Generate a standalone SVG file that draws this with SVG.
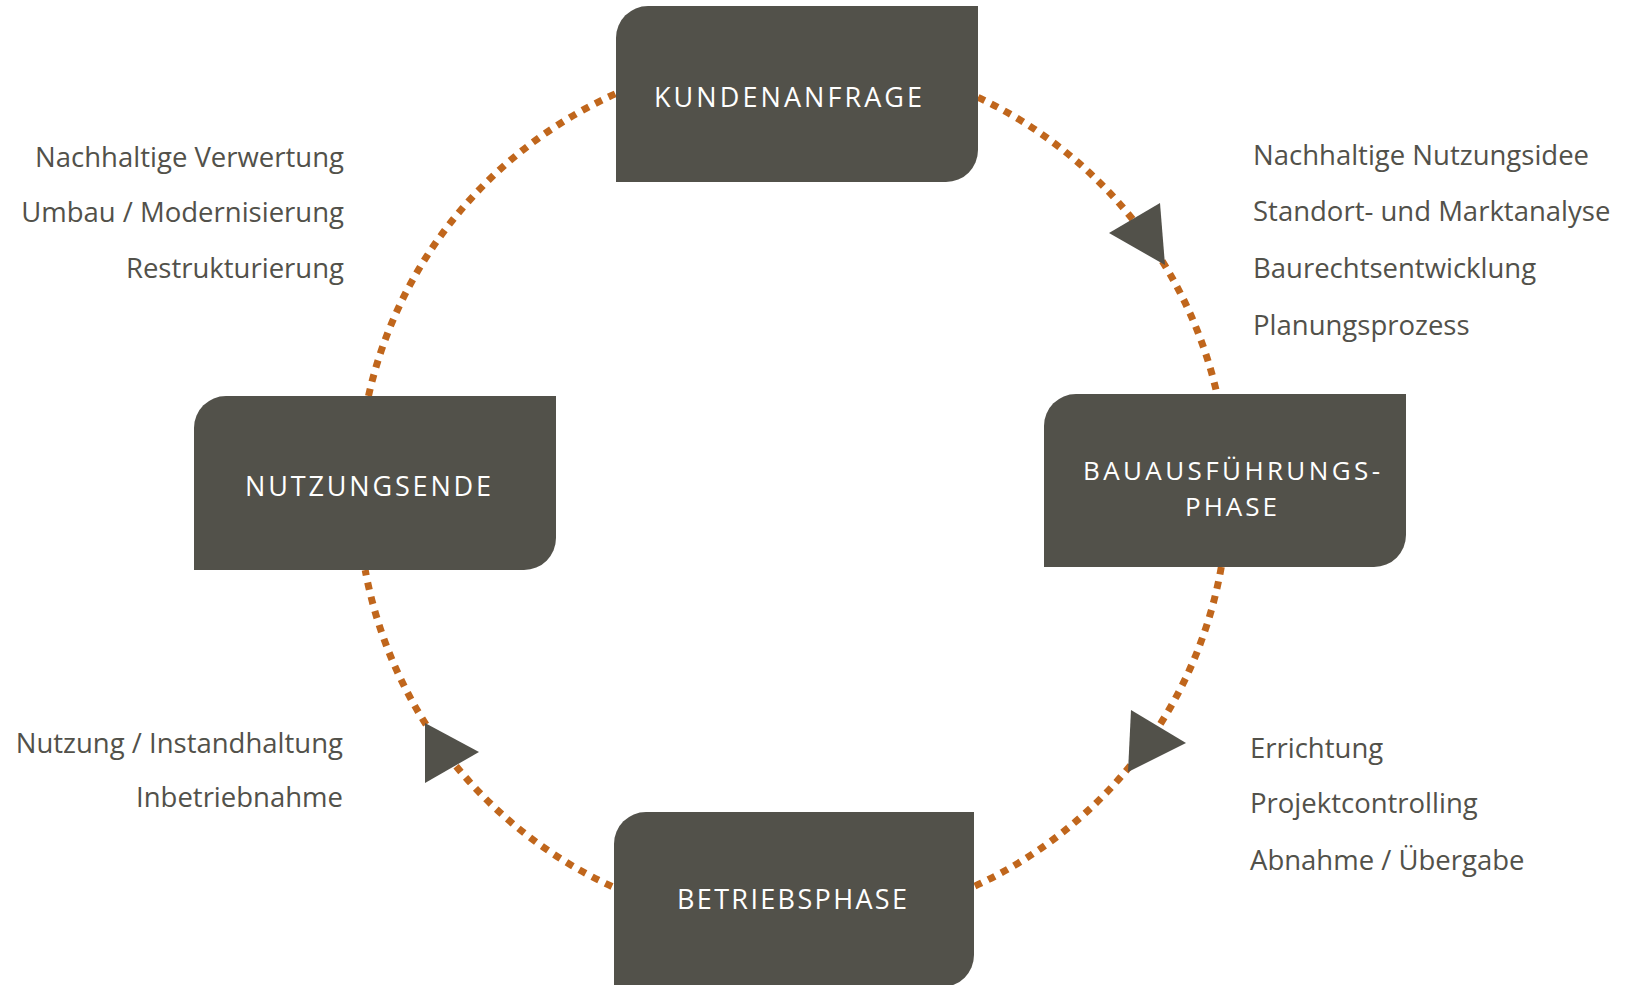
<svg xmlns="http://www.w3.org/2000/svg" width="1626" height="985" viewBox="0 0 1626 985">
<defs>
<style>
.box{fill:#52514A}
.bt{fill:#FFFFFF;font-family:"Open Sans","DejaVu Sans",sans-serif;font-size:27px}
.bt2{fill:#FFFFFF;font-family:"Open Sans","DejaVu Sans",sans-serif;font-size:26px}
.lbl{fill:#52514A;font-family:"Open Sans","DejaVu Sans",sans-serif;font-size:27.5px}
.arc{fill:none;stroke:#C0661C;stroke-width:7;stroke-dasharray:7.5 7.2}
.head{fill:#52514A}
</style>
</defs>
<rect width="1626" height="985" fill="#FFFFFF"/>
<g id="connectors">
<path class="arc" d="M368.5,396 A435,435 0 0 1 616,93.6"/>
<path class="arc" d="M978,97.3 A435,435 0 0 1 1217,394"/>
<path class="arc" d="M1221.3,567 A435,435 0 0 1 974,886.5"/>
<path class="arc" d="M612,886.5 A435,435 0 0 1 365.2,570"/>
<polygon class="head" points="1109,233 1160,203 1165,265"/>
<polygon class="head" points="1131,710 1186,743 1128,772"/>
<polygon class="head" points="425,723 479,752 425,783"/>
</g>
<g id="node-kundenanfrage">
<path class="box" d="M648,6 H978 V150 A32,32 0 0 1 946,182 H616 V38 A32,32 0 0 1 648,6 Z"/>
<text class="bt" x="654" y="107" textLength="268" lengthAdjust="spacing">KUNDENANFRAGE</text>
</g>
<g id="node-bauausfuehrung">
<path class="box" d="M1076,394 H1406 V535 A32,32 0 0 1 1374,567 H1044 V426 A32,32 0 0 1 1076,394 Z"/>
<text class="bt2" x="1083" y="480" textLength="297" lengthAdjust="spacing">BAUAUSFÜHRUNGS-</text>
<text class="bt2" x="1185" y="516" textLength="92" lengthAdjust="spacing">PHASE</text>
</g>
<g id="node-nutzungsende">
<path class="box" d="M226,396 H556 V538 A32,32 0 0 1 524,570 H194 V428 A32,32 0 0 1 226,396 Z"/>
<text class="bt" x="245" y="496" textLength="246" lengthAdjust="spacing">NUTZUNGSENDE</text>
</g>
<g id="node-betriebsphase">
<path class="box" d="M646,812 H974 V955 A32,32 0 0 1 942,987 H614 V844 A32,32 0 0 1 646,812 Z"/>
<text class="bt" x="677" y="909" textLength="230" lengthAdjust="spacing">BETRIEBSPHASE</text>
</g>
<g id="labels-nutzungsende" text-anchor="end">
<text class="lbl" x="344" y="167">Nachhaltige Verwertung</text>
<text class="lbl" x="344" y="222">Umbau / Modernisierung</text>
<text class="lbl" x="344" y="278">Restrukturierung</text>
</g>
<g id="labels-kundenanfrage">
<text class="lbl" x="1253" y="165">Nachhaltige Nutzungsidee</text>
<text class="lbl" x="1253" y="221">Standort- und Marktanalyse</text>
<text class="lbl" x="1253" y="278">Baurechtsentwicklung</text>
<text class="lbl" x="1253" y="335">Planungsprozess</text>
</g>
<g id="labels-betrieb" text-anchor="end">
<text class="lbl" x="343" y="753">Nutzung / Instandhaltung</text>
<text class="lbl" x="343" y="807">Inbetriebnahme</text>
</g>
<g id="labels-bau">
<text class="lbl" x="1250" y="758">Errichtung</text>
<text class="lbl" x="1250" y="813">Projektcontrolling</text>
<text class="lbl" x="1250" y="870">Abnahme / Übergabe</text>
</g>
</svg>
